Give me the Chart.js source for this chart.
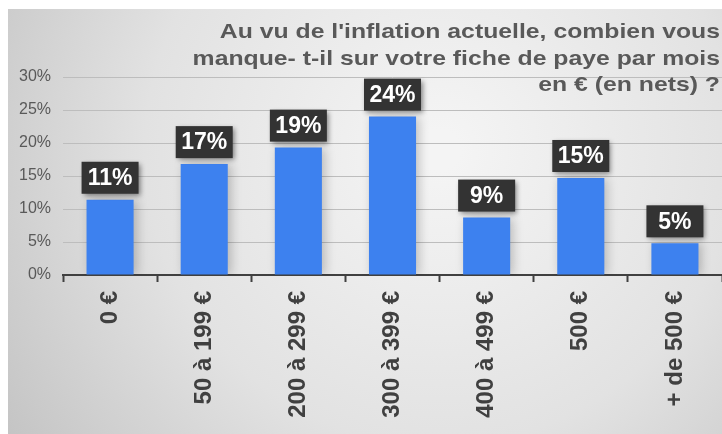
<!DOCTYPE html>
<html>
<head>
<meta charset="utf-8">
<script src="https://cdn.jsdelivr.net/npm/chart.js@4/dist/chart.umd.min.js"></script>
<style>
  html, body { margin: 0; padding: 0; background: #fff; }
  #chart { display: block; }
</style>
</head>
<body>
<canvas id="chart" width="722" height="434"></canvas>
<script>
const categories = ['0 €', '50 à 199 €', '200 à 299 €', '300 à 399 €', '400 à 499 €', '500 €', '+ de 500 €'];
const shares = [11.4, 16.8, 19.3, 24.0, 8.7, 14.7, 4.8];
const shareLabels = ['11%', '17%', '19%', '24%', '9%', '15%', '5%'];
const titleLines = [
    "Au vu de l'inflation actuelle, combien vous",
    'manque- t-il sur votre fiche de paye par mois',
    'en € (en nets) ?'
];

// grey panel behind everything
const panelBackground = {
    id: 'panelBackground',
    beforeDraw(chart) {
        const ctx = chart.ctx;
        ctx.save();
        ctx.fillStyle = '#ffffff';
        ctx.fillRect(0, 0, chart.width, chart.height);
        const g = ctx.createRadialGradient(440, 150, 20, 440, 150, 520);
        g.addColorStop(0, '#f4f4f4');
        g.addColorStop(0.55, '#e2e2e2');
        g.addColorStop(1, '#c4c4c4');
        ctx.fillStyle = g;
        ctx.fillRect(8, 9, chart.width - 8, chart.height - 9);
        ctx.restore();
    }
};

// soft shadow under the bars
const barShadow = {
    id: 'barShadow',
    beforeDatasetsDraw(chart) {
        const ctx = chart.ctx;
        ctx.save();
        ctx.shadowColor = 'rgba(0,0,0,0.22)';
        ctx.shadowBlur = 10;
        ctx.shadowOffsetX = 3;
    },
    afterDatasetsDraw(chart) {
        chart.ctx.restore();
    }
};

// dark value boxes above bars + title overlay
const valueBoxes = {
    id: 'valueBoxes',
    afterDraw(chart) {
        const ctx = chart.ctx;
        const meta = chart.getDatasetMeta(0);
        ctx.save();
        ctx.font = 'bold 23px "Liberation Sans", Arial, sans-serif';
        ctx.textAlign = 'center';
        ctx.textBaseline = 'middle';
        meta.data.forEach((bar, i) => {
            const w = 57, h = 32;
            const x = bar.x - w / 2;
            const y = bar.y - 6 - h;
            ctx.shadowColor = 'rgba(0,0,0,0.45)';
            ctx.shadowBlur = 5;
            ctx.shadowOffsetX = 2;
            ctx.shadowOffsetY = 2;
            ctx.fillStyle = '#333333';
            ctx.fillRect(x, y, w, h);
            ctx.shadowColor = 'transparent';
            ctx.fillStyle = '#ffffff';
            ctx.fillText(shareLabels[i], bar.x, y + h / 2 + 1);
        });

        // title is a bit wide in the original, stretch it horizontally
        ctx.font = 'bold 21px "Liberation Sans", Arial, sans-serif';
        ctx.fillStyle = '#595959';
        ctx.textAlign = 'right';
        ctx.textBaseline = 'alphabetic';
        titleLines.forEach((line, i) => {
            ctx.save();
            ctx.translate(720, 38 + i * 26.5);
            ctx.scale(1.18, 1);
            ctx.fillText(line, 0, 0);
            ctx.restore();
        });
        ctx.restore();
    }
};

new Chart(document.getElementById('chart'), {
    type: 'bar',
    data: {
        labels: categories,
        datasets: [{
            data: shares,
            backgroundColor: '#3d81ef',
            barPercentage: 0.5,
            categoryPercentage: 1.0
        }]
    },
    options: {
        responsive: false,
        animation: false,
        layout: { padding: { left: 8, top: 77, right: 0, bottom: 0 } },
        plugins: {
            legend: { display: false },
            tooltip: { enabled: false },
            title: { display: false }
        },
        scales: {
            x: {
                offset: true,
                grid: {
                    offset: true,
                    drawOnChartArea: false,
                    color: '#404040',
                    tickLength: 7,
                    tickWidth: 2
                },
                border: { color: '#404040', width: 2 },
                ticks: {
                    minRotation: 90,
                    maxRotation: 90,
                    padding: 9,
                    color: '#404040',
                    font: { family: '"Liberation Sans", Arial, sans-serif', size: 24, weight: 'bold' }
                },
                afterFit(scale) { scale.height = 159; }
            },
            y: {
                min: 0,
                max: 30,
                grid: {
                    color: '#bdbdbd',
                    drawTicks: false
                },
                border: { display: false },
                ticks: {
                    stepSize: 5,
                    padding: 12,
                    color: '#595959',
                    font: { family: '"Liberation Sans", Arial, sans-serif', size: 16 },
                    callback: v => v + '%'
                },
                afterFit(scale) { scale.width = 55; }
            }
        }
    },
    plugins: [panelBackground, barShadow, valueBoxes]
});
</script>
</body>
</html>
